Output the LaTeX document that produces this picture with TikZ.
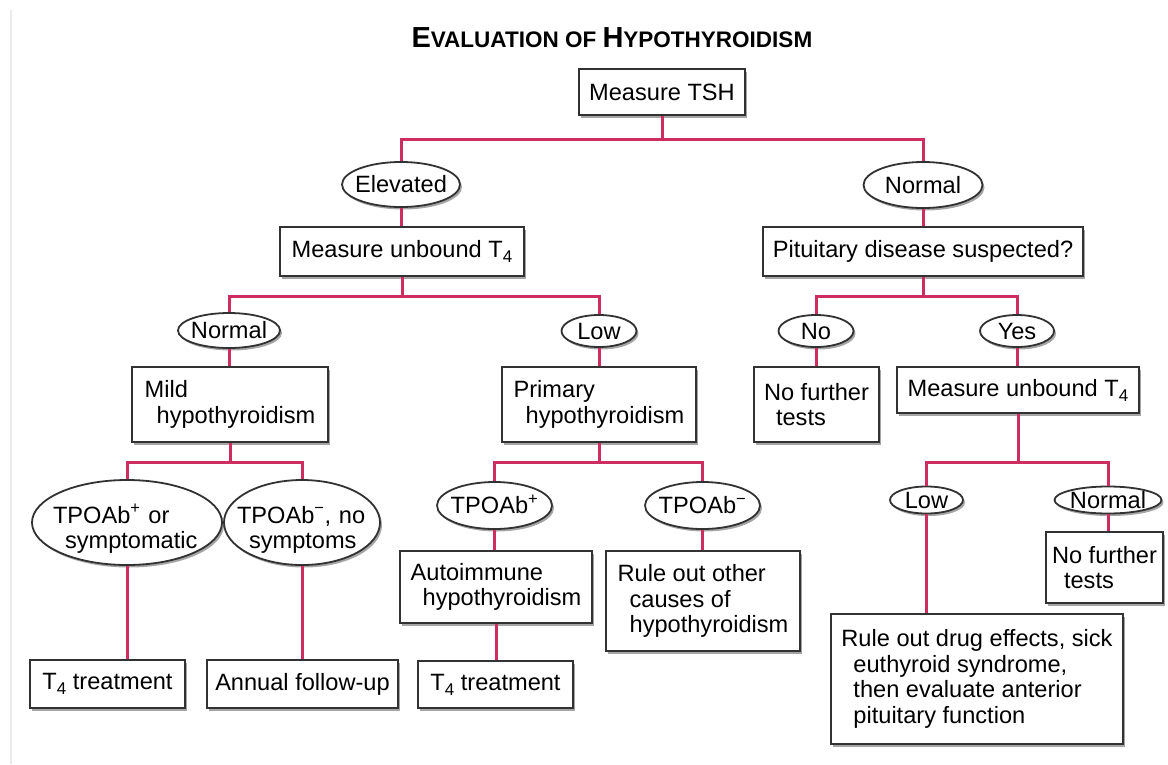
\documentclass[tikz,border=0pt]{standalone}
\usepackage{fontspec}
\setmainfont{Liberation Sans}
\usetikzlibrary{shapes.geometric}
\usetikzlibrary{shadows}

\definecolor{linkred}{RGB}{205,45,95}
\definecolor{boxgray}{RGB}{50,50,50}
\newcommand\indnt{\hspace*{12pt}}
\newcommand\Tf{T\raisebox{-5pt}{\fontsize{17}{17}\selectfont 4}}
\newcommand\smallcap[1]{{\fontsize{22.5}{24}\selectfont #1}}

\begin{document}
\begin{tikzpicture}[x=1pt, y=-1pt,
    font=\fontsize{23.6}{25.5}\selectfont,
    shade/.style={drop shadow={shadow xshift=2pt, shadow yshift=-2.5pt, fill=black!50, opacity=.7}},
    box/.style={shade, draw=boxgray, line width=1.8pt, fill=white, rectangle, inner xsep=8pt, inner ysep=0pt},
    tbox/.style={box, align=left},
    oval/.style={shade, draw=boxgray, line width=1.8pt, fill=white, ellipse, inner xsep=-20pt, inner ysep=-6pt,
        text height=16pt, text depth=0pt},
    link/.style={linkred, line width=3pt}]
    % page
    \fill[white] (0,0) rectangle (1168,764);
    \useasboundingbox (0,0) rectangle (1168,764);
    \draw[black!8, line width=1.5pt] (11,10) -- (11,764);

    \node (title) [anchor=base west, font=\bfseries\fontsize{29}{30}\selectfont] at (408,47)
        {E\smallcap{VALUATION OF }H\smallcap{YPOTHYROIDISM}};

    % level 1
    \node[box, minimum width=166pt, minimum height=46pt] (tsh) at (662,92) {Measure TSH};
    \node[oval, minimum width=118pt, minimum height=45pt] (elev) at (401,184.5) {Elevated};
    \node[oval, minimum width=119pt, minimum height=46pt] (norm1) at (923,185) {Normal};
    \node[box, minimum width=244pt, minimum height=49pt] (ut4a) at (402,251.5) {Measure unbound \Tf};
    \node[box, minimum width=320pt, minimum height=49pt] (pit) at (923,251.5) {Pituitary disease suspected?};

    % level 2
    \node[oval, minimum width=102pt, minimum height=35pt] (norm2) at (229,330.5) {Normal};
    \node[oval, minimum width=75pt, minimum height=32pt] (low1) at (599,331) {Low};
    \node[oval, minimum width=75pt, minimum height=32pt] (no) at (816,331) {No};
    \node[oval, minimum width=74pt, minimum height=32pt] (yes) at (1017,331) {Yes};
    \node[tbox, minimum width=196pt, minimum height=75pt] (mild) at (230,404.5) {Mild\\\indnt hypothyroidism};
    \node[tbox, minimum width=194pt, minimum height=75pt] (prim) at (599,404.5) {Primary\\\indnt hypothyroidism};
    \node[tbox, minimum width=125pt, minimum height=75pt] (nft1) at (816.5,404.5) {No further\\\indnt tests};
    \node[box, minimum width=242pt, minimum height=46pt] (ut4b) at (1018,390) {Measure unbound \Tf};

    % level 3
    \node[oval, align=left, text width=148pt, text height=12pt, text depth=11pt,
        minimum width=190pt, minimum height=85pt] (tpos1) at (127,522.5)
        {TPOAb\textsuperscript{+} or\\\indnt symptomatic};
    \node[oval, align=left, text width=130pt, text height=12pt, text depth=11pt,
        minimum width=156pt, minimum height=85pt] (tneg1) at (302,522.5)
        {TPOAb\textsuperscript{−}, no\\\indnt symptoms};
    \node[oval, minimum width=115pt, minimum height=47pt] (tpos2) at (494.5,505.5) {TPOAb\textsuperscript{+}};
    \node[oval, minimum width=115pt, minimum height=47pt] (tneg2) at (702.5,505.5) {TPOAb\textsuperscript{−}};
    \node[oval, minimum width=73pt, minimum height=27pt] (low2) at (926.5,500) {Low};
    \node[oval, minimum width=107pt, minimum height=27pt] (norm3) at (1108,500) {Normal};

    \node[tbox, minimum width=192pt, minimum height=72pt] (auto) at (496,587) {Autoimmune\\\indnt hypothyroidism};
    \node[tbox, minimum width=194pt, minimum height=100pt] (other) at (703,601)
        {Rule out other\\\indnt causes of\\\indnt hypothyroidism};
    \node[tbox, inner xsep=5pt, minimum width=117pt, minimum height=71pt] (nft2) at (1104.5,567.5) {No further\\\indnt tests};
    \node[tbox, minimum width=292pt, minimum height=130pt] (drug) at (977,679)
        {Rule out drug effects, sick\\\indnt euthyroid syndrome,\\\indnt then evaluate anterior\\\indnt pituitary function};

    % level 4
    \node[box, minimum width=155pt, minimum height=48pt] (t4a) at (107.5,684) {\Tf{} treatment};
    \node[box, minimum width=191pt, minimum height=48pt] (annual) at (302.5,684) {Annual follow-up};
    \node[box, minimum width=155pt, minimum height=47pt] (t4b) at (495.5,684.5) {\Tf{} treatment};

    % connectors
    \coordinate (j1) at (662,139);
    \coordinate (j2) at (402,296);
    \coordinate (j3) at (923,296);
    \coordinate (j4) at (230,462);
    \coordinate (j5) at (599,462);
    \coordinate (j6) at (1018,462);

    \draw[link] (tsh.south) -- (j1);
    \draw[link] (elev.north) |- (j1) -| (norm1.north);
    \draw[link] (elev.south) -- (elev.south |- ut4a.north);
    \draw[link] (norm1.south) -- (norm1.south |- pit.north);

    \draw[link] (ut4a.south) -- (j2);
    \draw[link] (norm2.north) |- (j2) -| (low1.north);
    \draw[link] (pit.south) -- (j3);
    \draw[link] (no.north) |- (j3) -| (yes.north);

    \draw[link] (norm2.south) -- (norm2.south |- mild.north);
    \draw[link] (low1.south) -- (low1.south |- prim.north);
    \draw[link] (no.south) -- (no.south |- nft1.north);
    \draw[link] (yes.south) -- (yes.south |- ut4b.north);

    \draw[link] (mild.south) -- (j4);
    \draw[link] (tpos1.north) |- (j4) -| (tneg1.north);
    \draw[link] (prim.south) -- (j5);
    \draw[link] (tpos2.north) |- (j5) -| (tneg2.north);
    \draw[link] (ut4b.south) -- (j6);
    \draw[link] (low2.north) |- (j6) -| (norm3.north);

    \draw[link] (tpos1.south) -- (tpos1.south |- t4a.north);
    \draw[link] (tneg1.south) -- (tneg1.south |- annual.north);
    \draw[link] (tpos2.south) -- (tpos2.south |- auto.north);
    \draw[link] (auto.south) -- (auto.south |- t4b.north);
    \draw[link] (tneg2.south) -- (tneg2.south |- other.north);
    \draw[link] (low2.south) -- (low2.south |- drug.north);
    \draw[link] (norm3.south) -- (norm3.south |- nft2.north);
\end{tikzpicture}
\end{document}
